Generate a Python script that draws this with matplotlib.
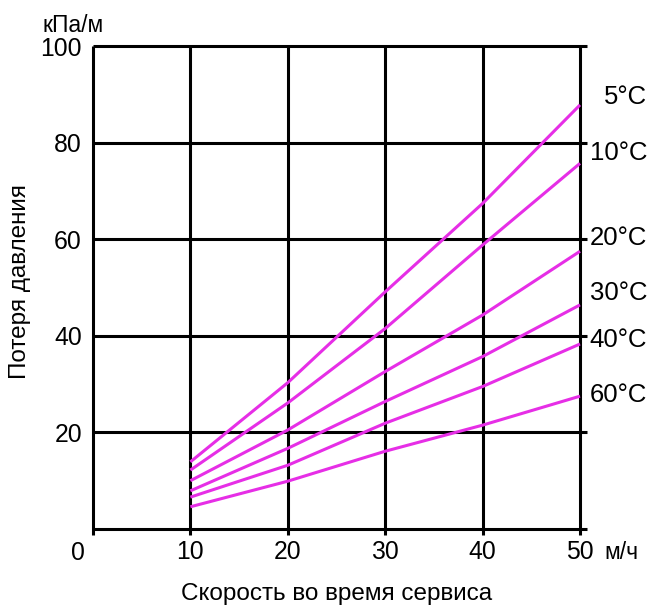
import numpy as np
import matplotlib
matplotlib.use('Agg')
import matplotlib.pyplot as plt

plt.rcParams['font.family'] = ['Liberation Sans', 'DejaVu Sans']

# data
speed = [10, 20, 30, 40, 50]
t_labels = ['5°C', '10°C', '20°C', '30°C', '40°C', '60°C']
loss_5 = [13.9, 30.3, 49.1, 67.4, 87.8]
loss_10 = [12.2, 26.1, 41.5, 58.8, 75.7]
loss_20 = [10.0, 20.5, 32.6, 44.3, 57.5]
loss_30 = [7.9, 16.7, 26.4, 35.7, 46.4]
loss_40 = [6.6, 13.2, 21.9, 29.5, 38.3]
loss_60 = [4.6, 9.9, 16.1, 21.5, 27.5]
label_y = [89.4, 77.8, 60.2, 48.9, 39.1, 27.7]
x_ticks = [10, 20, 30, 40, 50]
y_ticks = [20, 40, 60, 80, 100]

W, H = 651, 607
fig = plt.figure(figsize=(W / 100, H / 100), dpi=100)
ax = fig.add_axes([93 / W, 78 / H, (580 - 93) / W, (529 - 46) / H])
ax.set_xlim(0, 50)
ax.set_ylim(0, 100)
for s in ax.spines.values():
    s.set_visible(False)

lw_grid = 2.2
# horizontal lines (stick out a bit to the right)
ax.hlines([0] + y_ticks, 0, 50.7, colors='black', lw=lw_grid, clip_on=False)
# vertical lines (stick out a bit below)
ax.vlines([0] + x_ticks, -1.3, 100, colors='black', lw=lw_grid, clip_on=False)

mag = '#e62ee6'
for ys in [loss_5, loss_10, loss_20, loss_30, loss_40, loss_60]:
    ax.plot(speed, ys, color=mag, lw=2.2, solid_capstyle='butt', clip_on=False)

for lab, yy in zip(t_labels, label_y):
    ax.text(56.9, yy, lab, ha='right', va='center', fontsize=18.5, clip_on=False)

ax.set_xticks(x_ticks)
ax.set_xticklabels([str(v) for v in x_ticks])
ax.set_yticks(y_ticks)
ax.set_yticklabels([str(v) for v in y_ticks])
ax.tick_params(axis='both', length=0, labelsize=17.8)
ax.tick_params(axis='x', pad=8)
ax.tick_params(axis='y', pad=8)

ax.text(-1.5, -2.4, '0', ha='center', va='top', fontsize=17.8,
        transform=ax.transData, clip_on=False)
ax.text(52.5, -2.4, 'м/ч', ha='left', va='top', fontsize=16.5, clip_on=False)

fig.text(43 / W, 1 - 25 / H, 'кПа/м', ha='left', va='center', fontsize=16.5)
fig.text(20 / W, 1 - 282 / H, 'Потеря давления', rotation=90,
         ha='center', va='center', fontsize=17.5)
fig.text(337 / W, 1 - 594 / H, 'Скорость во время сервиса',
         ha='center', va='center', fontsize=17.5)

fig.savefig('out.png', dpi=100)
